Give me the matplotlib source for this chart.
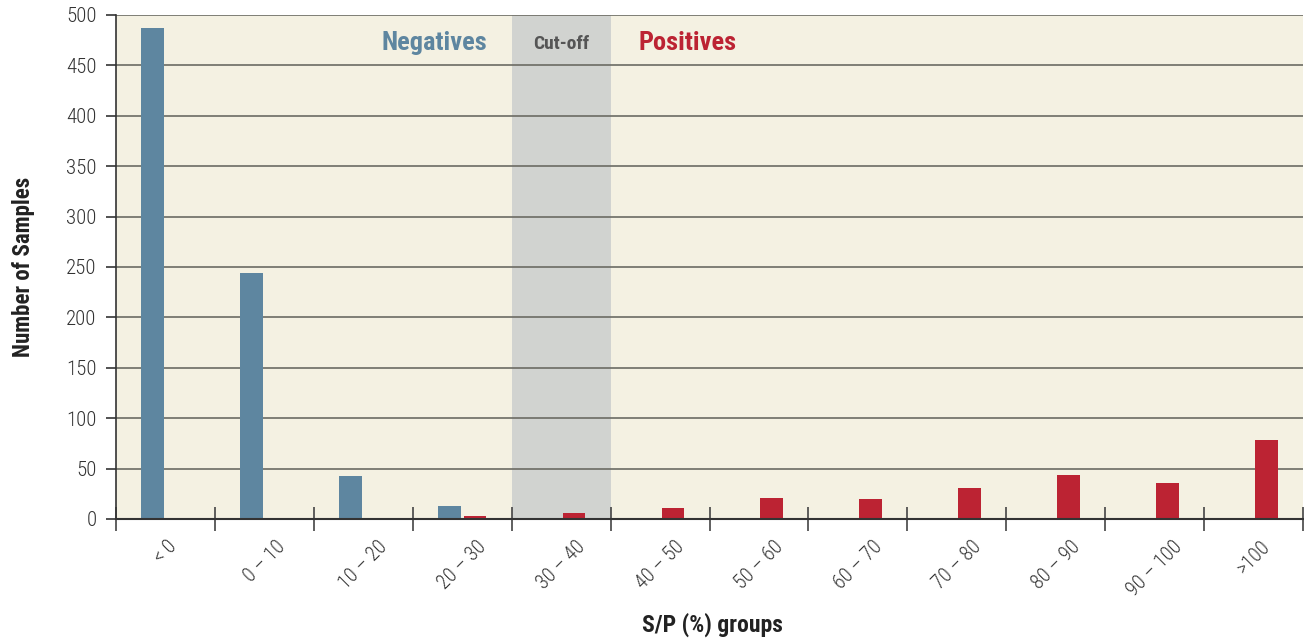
import matplotlib
matplotlib.use("Agg")
import matplotlib.pyplot as plt
import numpy as np
from matplotlib import font_manager

categories = ["< 0", "0 – 10", "10 – 20", "20 – 30", "30 – 40", "40 – 50",
              "50 – 60", "60 – 70", "70 – 80", "80 – 90", "90 – 100", ">100"]
negatives = [487, 244, 43, 13, 1, 0, 0, 0, 0, 0, 0, 0]
positives = [0, 0, 0, 3, 6, 11, 21, 20, 31, 44, 36, 78]
yticks = [0, 50, 100, 150, 200, 250, 300, 350, 400, 450, 500]

fonts = font_manager.fontManager.ttflist
names = {f.name for f in fonts}
fam = None
for cand in ["Liberation Sans Narrow", "Roboto Condensed", "Open Sans Condensed"]:
    if cand in names:
        fam = cand
        break
stretch = "normal"
if fam is None:
    fam = "DejaVu Sans"
    if any(f.name == "DejaVu Sans" and str(f.stretch) in ("condensed", "semi-condensed") for f in fonts):
        stretch = "condensed"
plt.rcParams['font.family'] = [fam, 'DejaVu Sans']
plt.rcParams['font.stretch'] = stretch

BLUE = "#5E86A0"
RED = "#BC2333"
BG = "#F4F1E2"
SHADE = "#D1D3D0"
DARK = "#333333"

fig = plt.figure(figsize=(13.04, 6.38), dpi=100)
ax = fig.add_axes([116/1304, 1-519/638, (1303-116)/1304, (519-15)/638])
ax.set_facecolor(BG)

x = np.arange(len(categories))
w = 0.23
off = 0.13
ax.bar(x - off, negatives, width=w, color=BLUE, zorder=3)
ax.bar(x + off, positives, width=w, color=RED, zorder=3)
ax.axvspan(3.5, 4.5, color=SHADE, zorder=1, lw=0)

ax.set_xlim(-0.5, len(categories) - 0.5)
ax.set_ylim(0, 500)
ax.set_yticks(yticks)
ax.yaxis.grid(True, color="#6b6b63", lw=1.2, zorder=2)
for l in ax.get_ygridlines():
    l.set_zorder(2)

ax.set_xticks(np.arange(-0.5, len(categories)), minor=False)
ax.set_xticklabels([])
ax.set_xticks(x, minor=True)
ax.set_xticklabels(categories, minor=True, rotation=45, ha="center", va="top",
                   fontsize=14.5, fontweight="light", color="#333333")
ax.tick_params(axis="x", which="major", direction="inout", length=17, width=1.2, color="#444444")
ax.tick_params(axis="x", which="minor", length=0, pad=13)
ax.tick_params(axis="y", direction="out", length=7, width=1.2, color=DARK,
               labelsize=15, labelcolor="#333333", pad=7)
for t in ax.get_yticklabels():
    t.set_fontweight("light")

for s in ["top", "right"]:
    ax.spines[s].set_visible(False)
ax.spines["left"].set_color(DARK)
ax.spines["left"].set_linewidth(1.2)
ax.spines["bottom"].set_color(DARK)
ax.spines["bottom"].set_linewidth(1.5)
ax.spines["bottom"].set_zorder(4)

ax.set_ylabel("Number of Samples", fontsize=16.5, fontweight="bold", color="#222222", labelpad=22)
fig.text(712/1304, 1-625/638, "S/P (%) groups", fontsize=17, fontweight="bold", color="#222222",
         ha="center", va="center")

ax.text(2.72, 472, "Negatives", color=BLUE, fontsize=19, fontweight="bold", ha="center", va="center", zorder=5)
ax.text(4.0, 471, "Cut-off", color="#555555", fontsize=14, fontweight="bold", ha="center", va="center", zorder=5)
ax.text(5.28, 472, "Positives", color=RED, fontsize=19, fontweight="bold", ha="center", va="center", zorder=5)

fig.savefig("out.png", dpi=100)
